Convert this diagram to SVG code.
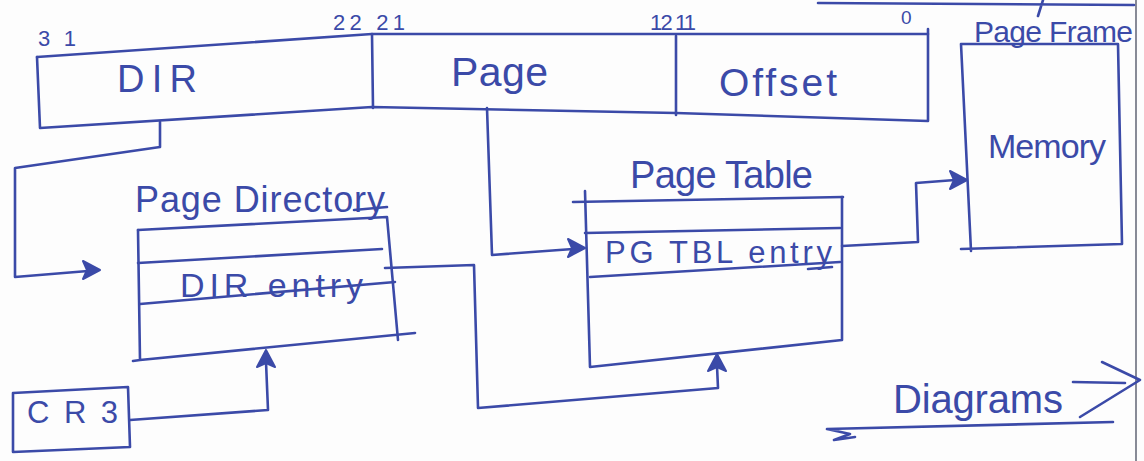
<svg xmlns="http://www.w3.org/2000/svg" width="1144" height="461" viewBox="0 0 1144 461">
  <style>
    .ink { fill: none; stroke: #3b4aa8; stroke-width: 2.6; stroke-linecap: round; stroke-linejoin: round; }
    .head { fill: #3b4aa8; stroke: #3b4aa8; stroke-width: 2; stroke-linejoin: round; }
    .txt { fill: #3b4aa8; font-family: "Liberation Sans", "DejaVu Sans", sans-serif; }
    .num { font-size: 22px; }
  </style>
  <defs>
    <!-- filled arrowhead, tip at the origin, pointing along +x -->
    <polygon id="ah" class="head" points="0,0 -17,-9 -13,0 -17,9"/>
  </defs>

  <rect x="0" y="0" width="1144" height="461" fill="#fdfdfd"/>

  <!-- page edge and top stroke -->
  <line x1="1136" y1="0" x2="1136" y2="461" stroke="#55596a" stroke-width="1.4"/>
  <path class="ink" d="M818,3 L1134,5 M1043,0 L1038,16"/>

  <!-- linear address: DIR | Page | Offset -->
  <g id="linear-address">
    <path class="ink" d="M37,57 L372,34 L928,34 L928,29"/>
    <path class="ink" d="M37,57 L40,128 L372,107 L676,113 L928,121 L928,34"/>
    <path class="ink" d="M372,34 L373,108"/>
    <path class="ink" d="M676,36 L676,115"/>
    <text class="txt num" x="38" y="46" textLength="38">3 1</text>
    <text class="txt num" x="333" y="30" textLength="72">22 21</text>
    <text class="txt num" x="650" y="30" textLength="46">12 11</text>
    <text class="txt" x="901" y="24" font-size="19">0</text>
    <text class="txt" x="117" y="92" font-size="38" textLength="80">DIR</text>
    <text class="txt" x="451" y="86" font-size="41" textLength="97">Page</text>
    <text class="txt" x="719" y="96" font-size="39" textLength="118">Offset</text>
  </g>

  <!-- page directory -->
  <g id="page-directory">
    <text class="txt" x="135" y="212" font-size="36" textLength="250">Page Directory</text>
    <path class="ink" d="M354,210 L387,207"/>
    <path class="ink" d="M138,230 L387,217 L398,340"/>
    <path class="ink" d="M138,230 L140,360 L133,361 M140,360 L415,333"/>
    <path class="ink" d="M138,263 L382,249"/>
    <path class="ink" d="M140,304 L395,282"/>
    <text class="txt" x="180" y="297" font-size="34" textLength="183">DIR entry</text>
  </g>

  <!-- page table -->
  <g id="page-table">
    <text class="txt" x="630" y="188" font-size="38" textLength="183">Page Table</text>
    <path class="ink" d="M573,202 L843,197"/>
    <path class="ink" d="M585,191 L590,367 L842,340 L842,197"/>
    <path class="ink" d="M585,233 L840,228"/>
    <path class="ink" d="M590,277 L840,262"/>
    <text class="txt" x="605" y="263" font-size="31" textLength="227">PG TBL entry</text>
    <path class="ink" d="M808,269 L832,267"/>
  </g>

  <!-- page frame -->
  <g id="page-frame">
    <text class="txt" x="974" y="42" font-size="30" textLength="159">Page Frame</text>
    <path class="ink" d="M961,44 L1118,44 L1122,244 L961,249 M961,44 L971,251"/>
    <text class="txt" x="988" y="158" font-size="34" textLength="118">Memory</text>
  </g>

  <!-- CR3 register -->
  <g id="cr3">
    <path class="ink" d="M13,393 L128,387 L130,447 L13,452 z"/>
    <text class="txt" x="27" y="423" font-size="31" textLength="91">CR3</text>
  </g>

  <!-- connectors -->
  <g id="connectors">
    <path class="ink" d="M160,122 L160,147 L15,168 L15,277 L88,271"/>
    <use href="#ah" transform="translate(100,270)"/>
    <path class="ink" d="M487,108 L492,255 L573,249"/>
    <use href="#ah" transform="translate(585,248)"/>
    <path class="ink" d="M385,268 L474,265 L478,408 L718,388 L717,366"/>
    <use href="#ah" transform="translate(717,354) rotate(-90)"/>
    <path class="ink" d="M130,420 L268,410 L266,362"/>
    <use href="#ah" transform="translate(266,350) rotate(-90)"/>
    <path class="ink" d="M842,246 L918,242 L916,183 L955,180"/>
    <use href="#ah" transform="translate(967,180)"/>
  </g>

  <!-- caption -->
  <g id="caption">
    <text class="txt" x="893" y="413" font-size="40" textLength="170">Diagrams</text>
    <path class="ink" d="M1073,382 L1125,383 M1102,362 L1140,380 L1080,417"/>
    <path class="ink" d="M827,429 L1113,422 M827,429 L850,434 L834,440 L855,437"/>
  </g>
</svg>
